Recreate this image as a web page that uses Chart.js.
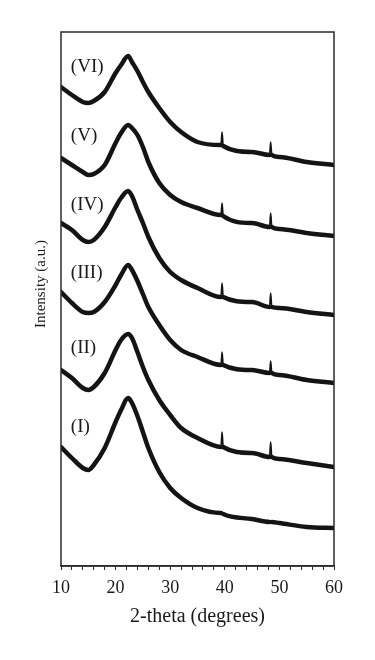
<!DOCTYPE html>
<html>
<head>
<meta charset="utf-8">
<script src="https://cdn.jsdelivr.net/npm/chart.js@4.4.1/dist/chart.umd.min.js"></script>
<style>
  body { margin: 0; background: #fff; }
  canvas { display: block; }
</style>
</head>
<body>
<canvas id="myChart" width="375" height="660"></canvas>
<script>
// 2-theta positions (degrees), shared by all patterns
const theta = [10, 12, 14, 15, 16, 18, 20, 21, 22.3, 23, 24, 25, 26, 28, 30, 32, 35, 39.3, 39.5, 39.7, 45, 48.2, 48.4, 48.6, 50, 55, 60];

// intensities (a.u.), already stacked with their offsets as in the figure
const curveVI  = [479, 471, 464, 463, 465, 474, 493, 501, 510, 504, 495, 484, 474, 458, 444, 434, 424, 421, 434, 420, 414, 411, 424, 411, 409, 404, 401];
const curveV   = [408, 401, 394, 391, 392, 401, 423, 433, 441, 438, 431, 419, 404, 383, 371, 364, 358, 351, 363, 350, 343, 339, 353, 339, 337, 333, 330];
const curveIV  = [343, 336, 326, 324, 326, 339, 359, 368, 375, 370, 356, 343, 329, 308, 294, 286, 278, 269, 283, 269, 264, 259, 273, 259, 258, 254, 251];
const curveIII = [274, 263, 254, 253, 254, 264, 281, 291, 301, 296, 285, 272, 259, 241, 226, 216, 209, 201, 214, 201, 196, 193, 205, 193, 191, 186, 183];
const curveII  = [196, 188, 178, 176, 179, 193, 216, 226, 232, 228, 214, 199, 186, 166, 151, 138, 128, 119, 134, 119, 113, 109, 124, 109, 107, 103, 99];
const curveI   = [119, 108, 98, 96, 101, 118, 144, 156, 168, 163, 150, 134, 118, 94, 78, 68, 58, 53, 53, 52, 47, 44, 44, 44, 43, 39, 38];

const names = ['(I)', '(II)', '(III)', '(IV)', '(V)', '(VI)'];
const labelTheta = [11.8, 11.8, 11.8, 11.8, 11.8, 11.8];
const labelLevel = [139, 218, 293, 361, 430, 499];

const xTicks = [10, 20, 30, 40, 50, 60];
// narrow reflections on top of the amorphous hump
const spikes = [[39.3, 39.7], [48.2, 48.6]];

const serif = '"Liberation Serif", "DejaVu Serif", serif';

function toPoints(ys) {
    return ys.map((y, i) => ({ x: theta[i], y: y }));
}

function inSpike(a, b) {
    return spikes.some(s => a >= s[0] && b <= s[1]);
}

const curves = [curveI, curveII, curveIII, curveIV, curveV, curveVI];

const frame = {
    id: 'frame',
    afterDraw(chart) {
        const a = chart.chartArea;
        const c = chart.ctx;
        c.save();
        c.strokeStyle = '#2b2b2b';
        c.lineWidth = 1.5;
        c.strokeRect(a.left, a.top, a.right - a.left, a.bottom - a.top);
        c.restore();
    }
};

const curveNames = {
    id: 'curveNames',
    afterDatasetsDraw(chart) {
        const c = chart.ctx;
        const xs = chart.scales.x;
        const ys = chart.scales.y;
        c.save();
        c.fillStyle = '#1a1a1a';
        c.font = '19px ' + serif;
        c.textAlign = 'left';
        c.textBaseline = 'middle';
        names.forEach((n, i) => {
            c.fillText(n, xs.getPixelForValue(labelTheta[i]), ys.getPixelForValue(labelLevel[i]));
        });
        // y title sits a little above the middle of the axis in the original
        c.translate(41, (chart.chartArea.top + chart.chartArea.bottom) / 2 - 15);
        c.rotate(-Math.PI / 2);
        c.textAlign = 'center';
        c.font = '15px ' + serif;
        c.fillText('Intensity (a.u.)', 0, 0);
        c.restore();
    }
};

let ctx = document.getElementById('myChart').getContext('2d');
let myChart = new Chart(ctx, {
    type: 'line',
    data: {
        datasets: curves.map((ys, i) => ({
            label: names[i],
            data: toPoints(ys),
            borderColor: '#141414',
            borderWidth: 4.5,
            borderCapStyle: 'round',
            borderJoinStyle: 'round',
            pointRadius: 0,
            cubicInterpolationMode: 'monotone',
            fill: false,
            segment: {
                borderWidth: s => inSpike(s.p0.parsed.x, s.p1.parsed.x) ? 1.6 : 4.5
            }
        }))
    },
    options: {
        responsive: false,
        animation: false,
        layout: {
            padding: { left: 0, right: 41, top: 32, bottom: 28 }
        },
        plugins: {
            legend: { display: false },
            tooltip: { enabled: false }
        },
        scales: {
            x: {
                type: 'linear',
                min: 10,
                max: 60,
                afterFit: function(scale) { scale.height = 66; },
                grid: {
                    display: true,
                    drawOnChartArea: false,
                    drawTicks: true,
                    tickLength: 4,
                    color: '#2b2b2b'
                },
                border: { display: true, color: '#2b2b2b', width: 1.5 },
                ticks: {
                    stepSize: 2,
                    autoSkip: false,
                    maxRotation: 0,
                    padding: 7,
                    color: '#1a1a1a',
                    font: { family: serif, size: 18 },
                    callback: function(v) { return xTicks.includes(v) ? String(v) : ''; }
                },
                title: {
                    display: true,
                    text: '2-theta (degrees)',
                    color: '#1a1a1a',
                    font: { family: serif, size: 20 },
                    padding: { top: 0, bottom: 3 }
                }
            },
            y: {
                min: 0,
                max: 534,
                afterFit: function(scale) { scale.width = 61; },
                grid: { display: false },
                border: { display: false },
                ticks: { display: false },
                title: { display: false }
            }
        }
    },
    plugins: [frame, curveNames]
});
</script>
</body>
</html>
